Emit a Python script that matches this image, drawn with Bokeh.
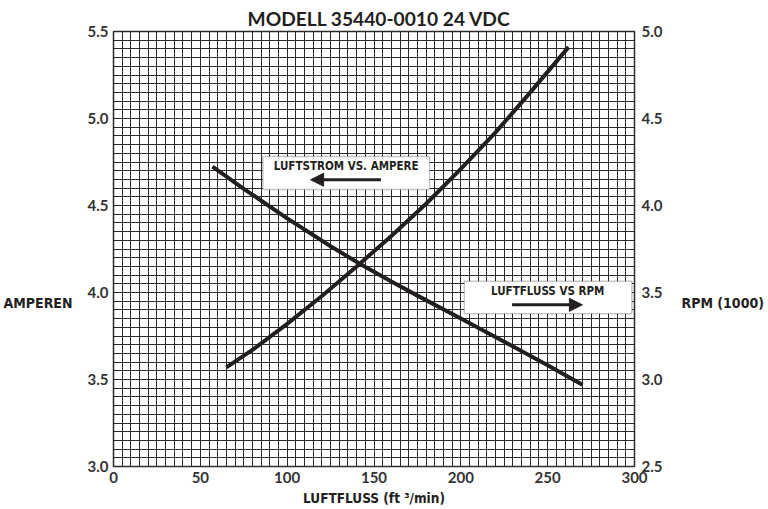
from bokeh.plotting import figure
from bokeh.models import (Range1d, LinearAxis, FixedTicker, Grid, Label, BoxAnnotation, Title,
                          Arrow, NormalHead, PrintfTickFormatter, CustomJSTickFormatter,
                          ColumnDataSource)
from bokeh.embed import file_html
from bokeh.resources import INLINE

# ---- data ----
title_text = "MODELL 35440-0010 24 VDC"
x_label = "LUFTFLUSS (ft \u00b3/min)"
left_label = "AMPEREN"
right_label = "RPM (1000)"
box1_text = "LUFTSTROM VS. AMPERE"
box2_text = "LUFTFLUSS VS RPM"

x_ticks = [0, 50, 100, 150, 200, 250, 300]
amp_ticks = [3.0, 3.5, 4.0, 4.5, 5.0, 5.5]
rpm_ticks = [2.5, 3.0, 3.5, 4.0, 4.5, 5.0]

flow_amp = [65, 80, 100, 120, 140, 160, 180, 200, 220, 240, 262]
amperes = [3.57, 3.67, 3.82, 3.98, 4.15, 4.325, 4.51, 4.71, 4.92, 5.15, 5.41]

flow_rpm = [57, 75, 100, 125, 142, 160, 175, 200, 225, 250, 270]
rpm_k = [4.224, 4.096, 3.926, 3.766, 3.664, 3.563, 3.482, 3.35, 3.217, 3.082, 2.97]

# ---- styling ----
GEO = "Lato"
COND = "DejaVu Sans Condensed"
INK = "#231f20"
TXT = "#333333"
GRID = "#2a2a2a"

p = figure(width=766, height=509, output_backend="svg", toolbar_location=None,
           x_range=Range1d(0, 300), y_range=Range1d(3.0, 5.5),
           min_border_left=113, min_border_right=130, min_border_top=31, min_border_bottom=43)
p.extra_y_ranges = {"rpm": Range1d(2.5, 5.0)}
p.background_fill_color = "white"
p.border_fill_color = "white"
p.outline_line_color = GRID
p.outline_line_width = 1.5
p.grid.visible = False

# fine grid
p.add_layout(Grid(dimension=0, ticker=FixedTicker(ticks=[i * 5 for i in range(61)]),
                  grid_line_color=GRID, grid_line_width=1))
p.add_layout(Grid(dimension=1, ticker=FixedTicker(ticks=[round(3.0 + 0.05 * i, 2) for i in range(51)]),
                  grid_line_color=GRID, grid_line_width=1))

def style_axis(ax, font=GEO, size="15px", color=TXT):
    ax.axis_line_color = None
    ax.major_tick_line_color = None
    ax.minor_tick_line_color = None
    ax.major_tick_out = 0
    ax.major_tick_in = 0
    ax.minor_tick_out = 0
    ax.minor_tick_in = 0
    ax.major_label_text_font = font
    ax.major_label_text_font_style = "bold"
    ax.major_label_text_font_size = size
    ax.major_label_text_color = color

xax = p.xaxis[0]
lax = p.yaxis[0]
xax.ticker = FixedTicker(ticks=x_ticks)
lax.ticker = FixedTicker(ticks=amp_ticks)
lax.formatter = PrintfTickFormatter(format="%.1f")
style_axis(xax)
style_axis(lax)
xax.major_label_standoff = 5
lax.major_label_standoff = 5
xax.axis_label = x_label
xax.axis_label_text_font = COND
xax.axis_label_text_font_style = "bold"
xax.axis_label_text_font_size = "13.5px"
xax.axis_label_text_color = INK
xax.axis_label_standoff = 4

raxis = LinearAxis(y_range_name="rpm", ticker=FixedTicker(ticks=rpm_ticks),
                   formatter=PrintfTickFormatter(format="%.1f"))
style_axis(raxis)
raxis.major_label_standoff = 7
p.add_layout(raxis, "right")

# side labels, drawn as the single tick label of an outer axis
lname = LinearAxis(ticker=FixedTicker(ticks=[3.94]),
                   formatter=CustomJSTickFormatter(code="return %r" % left_label))
style_axis(lname, font=COND, size="14px", color=INK)
lname.major_label_standoff = 12
p.add_layout(lname, "left")

rname = LinearAxis(ticker=FixedTicker(ticks=[3.94]),
                   formatter=CustomJSTickFormatter(code="return %r" % right_label))
style_axis(rname, font=COND, size="14px", color=INK)
rname.major_label_standoff = 16
p.add_layout(rname, "right")

# title
p.add_layout(Title(text=title_text, align="left", text_font=GEO, text_font_style="bold",
                   text_font_size="19.2px", text_color=INK, standoff=4, offset=134), "above")

# curves
src_amp = ColumnDataSource(dict(x=flow_amp, y=amperes))
src_rpm = ColumnDataSource(dict(x=flow_rpm, y=rpm_k))
p.line("x", "y", source=src_amp, line_color=INK, line_width=4)
p.line("x", "y", source=src_rpm, y_range_name="rpm", line_color=INK, line_width=4)

# annotation boxes
p.add_layout(BoxAnnotation(left=86, right=182, bottom=4.592, top=4.782,
                           fill_color="white", fill_alpha=1.0,
                           line_color="#444444", line_width=1.5))
p.add_layout(BoxAnnotation(left=202, right=298.5, bottom=3.878, top=4.065,
                           fill_color="white", fill_alpha=1.0,
                           line_color="#444444", line_width=1.5))

p.add_layout(Label(x=134, y=4.729, text=box1_text, text_align="center", text_baseline="middle",
                   text_font=COND, text_font_style="bold", text_font_size="11.5px", text_color=INK))
p.add_layout(Label(x=250, y=4.010, text=box2_text, text_align="center", text_baseline="middle",
                   text_font=COND, text_font_style="bold", text_font_size="11.5px", text_color=INK))

p.add_layout(Arrow(x_start=154, y_start=4.648, x_end=113.5, y_end=4.648,
                   line_color=INK, line_width=3,
                   end=NormalHead(size=13, fill_color=INK, line_color=INK)))
p.add_layout(Arrow(x_start=229.5, y_start=3.929, x_end=270, y_end=3.929,
                   line_color=INK, line_width=3,
                   end=NormalHead(size=13, fill_color=INK, line_color=INK)))

open("out.html", "w").write(file_html(p, INLINE))
